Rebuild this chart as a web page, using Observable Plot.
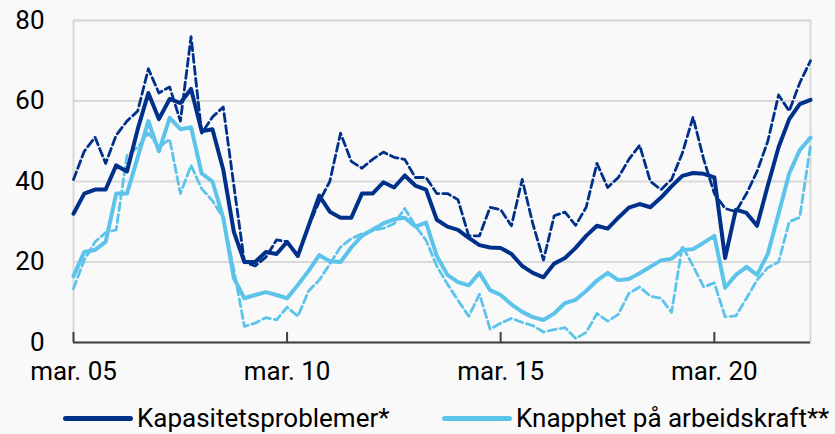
<!DOCTYPE html>
<html><head><meta charset="utf-8">
<script src="https://cdn.jsdelivr.net/npm/d3@7"></script>
<script src="https://cdn.jsdelivr.net/npm/@observablehq/plot@0.6"></script>
<style>
html,body{margin:0;padding:0;background:#f9f9f9;}
#wrap{position:relative;width:835px;height:434px;overflow:hidden;font-family:Roboto,"Noto Sans",sans-serif;}
.leg{position:absolute;top:403px;display:flex;align-items:center;font-size:26px;line-height:30px;color:#000;white-space:nowrap;}
.sw{display:inline-block;width:70px;height:5px;border-radius:3px;margin-right:4px;}
</style></head><body><div id="wrap"></div>
<script>
// Quarterly observations, first = mar. 05
const kapasitetsproblemer = [32,37,38,38,44,42.5,53,62,55.5,60.5,59.5,63,52.5,53,43,27.5,20,20,22.5,22,25,21.5,29,36.5,32.5,31,31,37,37,39.8,38.5,41.5,39,38,30.5,28.8,28,26,24.2,23.6,23.5,22,19,17.3,16.2,19.6,21,23.5,26.5,29,28.3,31,33.5,34.4,33.6,36,38.8,41.4,42.1,41.9,41,21,33,32.2,29,39,48.5,55.5,59.2,60.3];
const kapasitetsproblemerStiplet = [40.5,47.5,51,44.5,51.5,55,57.5,68,62,63.5,55,76,52,56,58.5,39,20,19,21.2,25.5,25,21.5,29,35,40,52,45,43.3,45.5,47.3,46,45.5,41,41,37,37,35.5,26.5,26.5,33.6,33,29,40.5,29.5,20.5,31.5,32.4,29.1,33.6,44.5,38.5,41,45.5,49,40,38,40.5,47,56,45.5,37,33.3,32.5,37,42.5,50,61.5,57.5,64.5,70];
const knapphet = [16.5,22.5,23,25,37,37,46,55,47.5,55.8,53,53.5,42,40,31,16,11,11.8,12.5,11.8,11,14.3,17.8,21.7,20.2,20,23.6,26.5,28,29.6,30.6,31,28.8,29.8,21.5,16.8,15,14.2,17.3,13,11.8,9.5,7.6,6.3,5.6,7.2,9.8,10.6,12.8,15.4,17.3,15.5,15.8,17.2,18.8,20.4,20.8,23,23.2,24.8,26.5,13.6,16.8,18.8,16.8,22,32,42,47.8,50.9];
const knapphetStiplet = [13.4,20.5,25,27.3,28,46.5,48.5,52,48.5,50.5,37,44,38.2,35.2,31,18,4,4.8,6.2,5.6,8.8,6.5,12.8,15.5,19.5,23.7,25.8,27,27.8,28.4,29.5,33.3,29,25.4,19,14.5,10.5,6.5,12,3.3,4.8,6,5,4.2,2.6,3.2,3.7,1,2.5,7.2,5.3,7,12.2,13.8,11.5,11,7.5,24,19,13.8,14.8,6.4,6.6,11,15.5,18.6,20,30,31.1,49];
const quarters = kapasitetsproblemer.map((_, i) => new Date(2005, 2 + 3 * i, 1));
const tickDates = [new Date(2005,2,1), new Date(2010,2,1), new Date(2015,2,1), new Date(2020,2,1)];
const tickLabels = ["mar. 05","mar. 10","mar. 15","mar. 20"];
const yTicks = [0,20,40,60,80];
const legendLabels = ["Kapasitetsproblemer*","Knapphet på arbeidskraft**"];
const dark = "#00318a", light = "#5cc3ea";

const xq = (d, i) => quarters[i];
const chart = Plot.plot({
  width: 835, height: 400,
  marginTop: 20, marginBottom: 58, marginLeft: 73, marginRight: 25,
  style: {background: "#f9f9f9", fontFamily: "Roboto, 'Noto Sans', sans-serif", fontSize: "26px", color: "#000", overflow: "visible"},
  x: {type: "time", domain: [quarters[0], quarters[quarters.length - 1]]},
  y: {domain: [0, 80]},
  marks: [
    Plot.gridY(yTicks.filter(d => d > 0), {stroke: "#d9d9d9", strokeOpacity: 1, strokeWidth: 2}),
    Plot.frame({stroke: "#d9d9d9", strokeWidth: 2}),
    Plot.line(knapphetStiplet, {x: xq, y: d => d, stroke: light, strokeWidth: 2.8, strokeDasharray: "8,4"}),
    Plot.line(kapasitetsproblemerStiplet, {x: xq, y: d => d, stroke: dark, strokeWidth: 2.8, strokeDasharray: "8,4"}),
    Plot.line(knapphet, {x: xq, y: d => d, stroke: light, strokeWidth: 4}),
    Plot.line(kapasitetsproblemer, {x: xq, y: d => d, stroke: dark, strokeWidth: 4}),
    Plot.ruleY([0], {stroke: "#404040", strokeWidth: 2}),
    Plot.ruleX(tickDates, {y1: 0, y2: 2.5, stroke: "#404040", strokeWidth: 2}),
    Plot.axisX(tickDates, {tickFormat: d => tickLabels[tickDates.findIndex(t => +t === +d)], tickSize: 0, tickPadding: 19, label: null, fontSize: 26}),
    Plot.axisY(yTicks, {tickSize: 0, tickPadding: 29, label: null, fontSize: 26})
  ]
});
const wrap = document.getElementById("wrap");
wrap.appendChild(chart);
[[63, dark, legendLabels[0]], [442, light, legendLabels[1]]].forEach(([left, c, t]) => {
  const div = document.createElement("div");
  div.className = "leg";
  div.style.left = left + "px";
  const sw = document.createElement("span");
  sw.className = "sw"; sw.style.background = c;
  const tx = document.createElement("span");
  tx.textContent = t;
  div.appendChild(sw); div.appendChild(tx);
  wrap.appendChild(div);
});
</script></body></html>
